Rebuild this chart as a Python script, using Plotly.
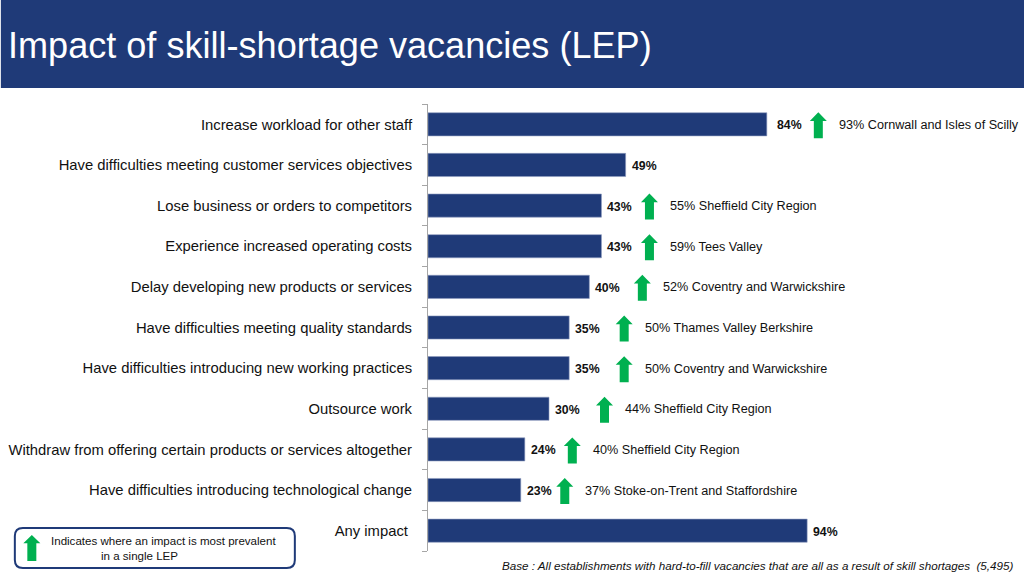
import plotly.graph_objects as go

TITLE = "Impact of skill-shortage vacancies (LEP)"
CATEGORIES = [
    "Increase workload for other staff",
    "Have difficulties meeting customer services objectives",
    "Lose business or orders to competitors",
    "Experience increased operating costs",
    "Delay developing new products or services",
    "Have difficulties meeting quality standards",
    "Have difficulties introducing new working practices",
    "Outsource work",
    "Withdraw from offering certain products or services altogether",
    "Have difficulties introducing technological change",
    "Any impact",
]
TICK_LABELS = CATEGORIES[:-1] + ["Any impact\u00a0"]
VALUES = [84, 49, 43, 43, 40, 35, 35, 30, 24, 23, 94]
TOP_LEP = [
    "93% Cornwall and Isles of Scilly", None, "55% Sheffield City Region", "59% Tees Valley",
    "52% Coventry and Warwickshire", "50% Thames Valley Berkshire", "50% Coventry and Warwickshire",
    "44% Sheffield City Region", "40% Sheffield City Region", "37% Stoke-on-Trent and Staffordshire", None,
]
LEGEND_LINE_1 = "Indicates where an impact is most prevalent"
LEGEND_LINE_2 = "in a single LEP"
FOOTNOTE = "Base : All establishments with hard-to-fill vacancies that are all as a result of skill shortages  (5,495)"

# layout offsets, in pixels from the end of each bar
VALUE_SHIFT = [8, 4, 4, 4, 4, 4, 4, 4, 4, 4, 4]
ARROW_SHIFT = [51.5, 0, 48, 48, 53, 55, 55, 55.5, 47.5, 44, 0]
LEP_SHIFT = [70.5, 0, 67, 67, 71.5, 74, 74, 74, 66, 62.5, 0]

NAVY = "#1F3A78"
GREEN = "#00B050"
FONT = "Liberation Sans"
W, H = 1024, 576
L, T, B = 427.5, 104, 25
PX_PER_PCT = 4.037
ARROW = "M-8.5,3.3 L0,12 L8.5,3.3 L4.5,3.3 L4.5,-14 L-4.5,-14 L-4.5,3.3 Z"


def shifted(path, dx):
    out = []
    for tok in path.split():
        cmd, rest = tok[0], tok[1:]
        if cmd == "Z":
            out.append("Z")
        else:
            x, y = rest.split(",")
            out.append(f"{cmd}{float(x) + dx},{y}")
    return " ".join(out)


def px_x(px):
    return (px - L) / (W - L)


def px_y(px):
    return (H - B - px) / (H - B - T)


fig = go.Figure(go.Bar(
    y=CATEGORIES, x=VALUES, orientation="h",
    marker=dict(color=NAVY, line=dict(color="#8E9CC0", width=0.6)),
    width=0.57, hoverinfo="skip",
))

annotations = [
    dict(text=TITLE, xref="paper", yref="paper", x=px_x(5), y=px_y(45),
         xanchor="left", yanchor="middle", showarrow=False, font=dict(family=FONT, size=36.1, color="white")),
    dict(text=LEGEND_LINE_1, xref="paper", yref="paper", x=px_x(162.5), y=px_y(541),
         xanchor="center", yanchor="middle", showarrow=False,
         font=dict(family=FONT, size=11.55, color="#111111")),
    dict(text=LEGEND_LINE_2, xref="paper", yref="paper", x=px_x(139), y=px_y(555.5),
         xanchor="center", yanchor="middle", showarrow=False,
         font=dict(family=FONT, size=11.55, color="#111111")),
    dict(text="<i>" + FOOTNOTE + "</i>", xref="paper", yref="paper", x=px_x(1015), y=px_y(565),
         xanchor="right", yanchor="middle", showarrow=False, font=dict(family=FONT, size=11.65, color="#111111")),
]
shapes = [
    dict(type="rect", xref="paper", yref="paper", layer="below", line_width=0, fillcolor=NAVY,
         x0=px_x(0), x1=1, y0=px_y(88), y1=px_y(0)),
    dict(type="path", xref="paper", yref="paper", xsizemode="pixel", ysizemode="pixel",
         xanchor=px_x(14), yanchor=0,
         path="M8,23 L272,23 Q280,23 280,15 L280,-9 Q280,-17 272,-17 L8,-17 Q0,-17 0,-9 L0,15 Q0,23 8,23 Z",
         line=dict(color=NAVY, width=2), fillcolor="rgba(0,0,0,0)"),
    dict(type="path", xref="paper", yref="paper", xsizemode="pixel", ysizemode="pixel",
         xanchor=px_x(31), yanchor=px_y(550),
         path="M-8.5,6.7 L0,15 L8.5,6.7 L4.5,6.7 L4.5,-11 L-4.5,-11 L-4.5,6.7 Z",
         line_width=0, fillcolor=GREEN),
]

for i, (cat, val, lep) in enumerate(zip(CATEGORIES, VALUES, TOP_LEP)):
    annotations.append(dict(
        text=f"<b>{val}%</b>", x=val, y=cat, xanchor="left", yanchor="middle", xshift=VALUE_SHIFT[i], yshift=-1,
        showarrow=False, font=dict(family=FONT, size=12.3, color="#111111")))
    if lep:
        annotations.append(dict(
            text=lep, x=val, y=cat, xanchor="left", yanchor="middle", xshift=LEP_SHIFT[i], yshift=-0.5,
            showarrow=False, font=dict(family=FONT, size=12.65, color="#111111")))
        shapes.append(dict(
            type="path", xref="x", yref="y", xsizemode="pixel", ysizemode="pixel",
            xanchor=val, yanchor=cat, path=shifted(ARROW, ARROW_SHIFT[i]), line_width=0, fillcolor=GREEN))

fig.update_layout(
    width=W, height=H, margin=dict(l=L, r=0, t=T, b=B, autoexpand=False),
    paper_bgcolor="white", plot_bgcolor="white", showlegend=False,
    annotations=annotations, shapes=shapes,
    xaxis=dict(range=[0, (W - L) / PX_PER_PCT], visible=False, fixedrange=True),
    yaxis=dict(
        categoryorder="array", categoryarray=CATEGORIES, autorange="reversed", type="category",
        tickmode="array", tickvals=CATEGORIES, ticktext=TICK_LABELS,
        showline=True, linecolor="#A6A6A6", linewidth=1, showgrid=False, zeroline=False,
        ticks="outside", ticklen=5, tickcolor="#A6A6A6", tickson="boundaries",
        ticklabelstandoff=12, tickfont=dict(family=FONT, size=14.8, color="#111111"),
    ),
)
fig.write_html("out.html", config=dict(displayModeBar=False),
               post_script="document.body.style.margin='0';document.documentElement.style.overflow='hidden';")
